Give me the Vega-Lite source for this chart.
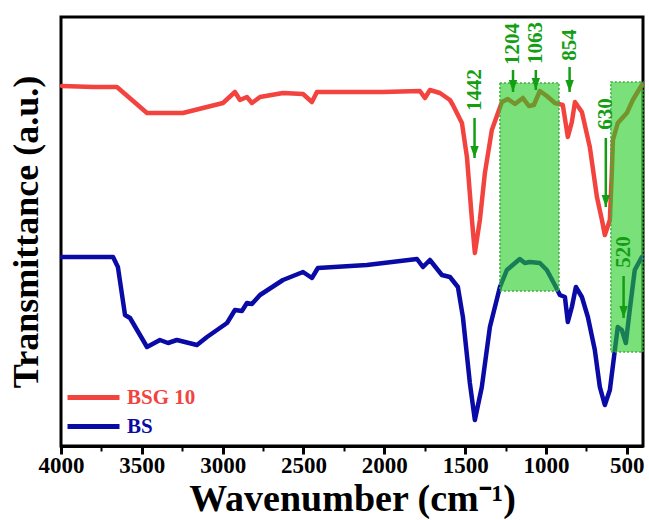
{
  "$schema": "https://vega.github.io/schema/vega-lite/v6.json",
  "width": 582,
  "height": 429,
  "autosize": {"type": "none"},
  "padding": {"left": 61, "top": 17, "right": 6, "bottom": 74},
  "background": "white",
  "config": {
    "view": {"stroke": "black", "strokeWidth": 3},
    "font": "Liberation Serif"
  },
  "datasets": {
    "spectra": [
      {"series": "BSG 10", "wn": 3994, "t": 360},
      {"series": "BSG 10", "wn": 3800, "t": 359},
      {"series": "BSG 10", "wn": 3654, "t": 359},
      {"series": "BSG 10", "wn": 3468, "t": 333},
      {"series": "BSG 10", "wn": 3246, "t": 333},
      {"series": "BSG 10", "wn": 2998, "t": 343},
      {"series": "BSG 10", "wn": 2924, "t": 354},
      {"series": "BSG 10", "wn": 2893, "t": 346},
      {"series": "BSG 10", "wn": 2850, "t": 349},
      {"series": "BSG 10", "wn": 2819, "t": 343},
      {"series": "BSG 10", "wn": 2769, "t": 349},
      {"series": "BSG 10", "wn": 2627, "t": 353},
      {"series": "BSG 10", "wn": 2503, "t": 352},
      {"series": "BSG 10", "wn": 2448, "t": 344},
      {"series": "BSG 10", "wn": 2417, "t": 354},
      {"series": "BSG 10", "wn": 2009, "t": 354},
      {"series": "BSG 10", "wn": 1780, "t": 355},
      {"series": "BSG 10", "wn": 1749, "t": 348},
      {"series": "BSG 10", "wn": 1718, "t": 356},
      {"series": "BSG 10", "wn": 1656, "t": 353},
      {"series": "BSG 10", "wn": 1594, "t": 346},
      {"series": "BSG 10", "wn": 1576, "t": 341},
      {"series": "BSG 10", "wn": 1520, "t": 323},
      {"series": "BSG 10", "wn": 1489, "t": 289},
      {"series": "BSG 10", "wn": 1458, "t": 226},
      {"series": "BSG 10", "wn": 1440, "t": 193},
      {"series": "BSG 10", "wn": 1409, "t": 226},
      {"series": "BSG 10", "wn": 1378, "t": 273},
      {"series": "BSG 10", "wn": 1335, "t": 316},
      {"series": "BSG 10", "wn": 1273, "t": 344},
      {"series": "BSG 10", "wn": 1236, "t": 347},
      {"series": "BSG 10", "wn": 1192, "t": 342},
      {"series": "BSG 10", "wn": 1143, "t": 348},
      {"series": "BSG 10", "wn": 1106, "t": 340},
      {"series": "BSG 10", "wn": 1075, "t": 341},
      {"series": "BSG 10", "wn": 1038, "t": 355},
      {"series": "BSG 10", "wn": 995, "t": 350},
      {"series": "BSG 10", "wn": 945, "t": 343},
      {"series": "BSG 10", "wn": 896, "t": 341},
      {"series": "BSG 10", "wn": 865, "t": 309},
      {"series": "BSG 10", "wn": 840, "t": 324},
      {"series": "BSG 10", "wn": 821, "t": 344},
      {"series": "BSG 10", "wn": 778, "t": 334},
      {"series": "BSG 10", "wn": 729, "t": 299},
      {"series": "BSG 10", "wn": 685, "t": 249},
      {"series": "BSG 10", "wn": 654, "t": 226},
      {"series": "BSG 10", "wn": 636, "t": 211},
      {"series": "BSG 10", "wn": 605, "t": 226},
      {"series": "BSG 10", "wn": 593, "t": 273},
      {"series": "BSG 10", "wn": 586, "t": 306},
      {"series": "BSG 10", "wn": 556, "t": 323},
      {"series": "BSG 10", "wn": 500, "t": 333},
      {"series": "BSG 10", "wn": 463, "t": 346},
      {"series": "BSG 10", "wn": 407, "t": 361},
      {"series": "BS", "wn": 3994, "t": 189},
      {"series": "BS", "wn": 3678, "t": 189},
      {"series": "BS", "wn": 3648, "t": 179},
      {"series": "BS", "wn": 3604, "t": 131},
      {"series": "BS", "wn": 3573, "t": 128},
      {"series": "BS", "wn": 3468, "t": 99},
      {"series": "BS", "wn": 3388, "t": 106},
      {"series": "BS", "wn": 3338, "t": 103},
      {"series": "BS", "wn": 3283, "t": 106},
      {"series": "BS", "wn": 3159, "t": 101},
      {"series": "BS", "wn": 3097, "t": 109},
      {"series": "BS", "wn": 2973, "t": 123},
      {"series": "BS", "wn": 2924, "t": 136},
      {"series": "BS", "wn": 2881, "t": 135},
      {"series": "BS", "wn": 2850, "t": 143},
      {"series": "BS", "wn": 2819, "t": 142},
      {"series": "BS", "wn": 2769, "t": 151},
      {"series": "BS", "wn": 2627, "t": 166},
      {"series": "BS", "wn": 2503, "t": 174},
      {"series": "BS", "wn": 2448, "t": 168},
      {"series": "BS", "wn": 2411, "t": 178},
      {"series": "BS", "wn": 2108, "t": 181},
      {"series": "BS", "wn": 1798, "t": 187},
      {"series": "BS", "wn": 1761, "t": 179},
      {"series": "BS", "wn": 1718, "t": 186},
      {"series": "BS", "wn": 1644, "t": 171},
      {"series": "BS", "wn": 1594, "t": 169},
      {"series": "BS", "wn": 1545, "t": 159},
      {"series": "BS", "wn": 1514, "t": 129},
      {"series": "BS", "wn": 1471, "t": 63},
      {"series": "BS", "wn": 1440, "t": 26},
      {"series": "BS", "wn": 1397, "t": 59},
      {"series": "BS", "wn": 1347, "t": 119},
      {"series": "BS", "wn": 1285, "t": 159},
      {"series": "BS", "wn": 1242, "t": 176},
      {"series": "BS", "wn": 1162, "t": 187},
      {"series": "BS", "wn": 1131, "t": 183},
      {"series": "BS", "wn": 1100, "t": 184},
      {"series": "BS", "wn": 1038, "t": 183},
      {"series": "BS", "wn": 995, "t": 176},
      {"series": "BS", "wn": 945, "t": 161},
      {"series": "BS", "wn": 914, "t": 151},
      {"series": "BS", "wn": 883, "t": 149},
      {"series": "BS", "wn": 865, "t": 124},
      {"series": "BS", "wn": 840, "t": 139},
      {"series": "BS", "wn": 815, "t": 159},
      {"series": "BS", "wn": 778, "t": 149},
      {"series": "BS", "wn": 741, "t": 129},
      {"series": "BS", "wn": 698, "t": 96},
      {"series": "BS", "wn": 667, "t": 59},
      {"series": "BS", "wn": 636, "t": 41},
      {"series": "BS", "wn": 605, "t": 56},
      {"series": "BS", "wn": 574, "t": 96},
      {"series": "BS", "wn": 556, "t": 119},
      {"series": "BS", "wn": 531, "t": 116},
      {"series": "BS", "wn": 506, "t": 103},
      {"series": "BS", "wn": 482, "t": 136},
      {"series": "BS", "wn": 451, "t": 176},
      {"series": "BS", "wn": 407, "t": 189}
    ],
    "regions": [
      {"from": 1285, "to": 920, "top": 363, "bottom": 155},
      {"from": 599, "to": 400, "top": 364, "bottom": 94}
    ],
    "peaks": [
      {"label": "1442", "wn": 1442, "start": 328, "tip": 288, "text": 356},
      {"label": "1204", "wn": 1204, "start": 376, "tip": 354, "text": 402},
      {"label": "1063", "wn": 1063, "start": 376, "tip": 356, "text": 403},
      {"label": "854", "wn": 854, "start": 379, "tip": 354, "text": 401},
      {"label": "630", "wn": 630, "start": 308, "tip": 239, "text": 332},
      {"label": "520", "wn": 520, "start": 170, "tip": 128, "text": 194}
    ]
  },
  "layer": [
    {
      "data": {"name": "spectra"},
      "mark": {"type": "line", "strokeWidth": 4.5, "strokeJoin": "round", "strokeCap": "round"},
      "encoding": {
        "x": {
          "field": "wn", "type": "quantitative",
          "scale": {"domain": [4000, 400], "nice": false, "zero": false},
          "axis": {
            "title": "Wavenumber (cm⁻¹)",
            "values": [4000, 3750, 3500, 3250, 3000, 2750, 2500, 2250, 2000, 1750, 1500, 1250, 1000, 750, 500],
            "labelExpr": "datum.value % 500 === 0 ? datum.label : ''",
            "format": "d",
            "grid": false,
            "domainColor": "black", "domainWidth": 3,
            "tickColor": "black",
            "tickSize": {"condition": {"test": "datum.value % 500 === 0", "value": 8}, "value": 5},
            "tickWidth": {"condition": {"test": "datum.value % 500 === 0", "value": 3}, "value": 2},
            "labelFont": "Liberation Serif", "labelFontSize": 23, "labelFontWeight": "bold", "labelColor": "black",
            "labelPadding": 0, "labelFlush": false, "labelOverlap": false,
            "titleFont": "Liberation Serif", "titleFontSize": 38, "titleFontWeight": "bold", "titleColor": "black",
            "titlePadding": 3
          }
        },
        "y": {
          "field": "t", "type": "quantitative",
          "scale": {"domain": [0, 429], "nice": false, "zero": false},
          "axis": {
            "title": "Transmittance (a.u.)",
            "labels": false, "ticks": false, "grid": false, "domain": false,
            "titleFont": "Liberation Serif", "titleFontSize": 36, "titleFontWeight": "bold", "titleColor": "black",
            "titlePadding": 16
          }
        },
        "color": {
          "field": "series", "type": "nominal",
          "scale": {"domain": ["BSG 10", "BS"], "range": ["#f2433f", "#0a0aa6"]},
          "legend": {
            "title": null,
            "orient": "bottom-left",
            "offset": 9,
            "symbolType": "M -4 0 L 4 0",
            "symbolSize": 169,
            "symbolStrokeWidth": 5,
            "symbolOffset": 13,
            "labelFont": "Liberation Serif", "labelFontSize": 21, "labelFontWeight": "bold",
            "labelOffset": 23,
            "rowPadding": 7,
            "encode": {"labels": {"update": {"fill": {"scale": "color", "field": "value"}}}}
          }
        },
        "order": {"field": "wn", "type": "quantitative", "sort": "descending"}
      }
    },
    {
      "data": {"name": "regions"},
      "mark": {"type": "rect", "fill": "#22cc22", "fillOpacity": 0.6, "stroke": "#3fae3f", "strokeWidth": 1.5, "strokeDash": [2, 2]},
      "encoding": {
        "x": {"field": "from", "type": "quantitative"},
        "x2": {"field": "to"},
        "y": {"field": "top", "type": "quantitative"},
        "y2": {"field": "bottom"}
      }
    },
    {
      "data": {"name": "peaks"},
      "mark": {"type": "rule", "color": "#149e14", "strokeWidth": 2.5},
      "encoding": {
        "x": {"field": "wn", "type": "quantitative"},
        "y": {"field": "start", "type": "quantitative"},
        "y2": {"field": "tip"}
      }
    },
    {
      "data": {"name": "peaks"},
      "mark": {"type": "point", "shape": "M -0.7 -2 L 0.7 -2 L 0 0 Z", "size": 144, "filled": true, "color": "#149e14", "opacity": 1},
      "encoding": {
        "x": {"field": "wn", "type": "quantitative"},
        "y": {"field": "tip", "type": "quantitative"}
      }
    },
    {
      "data": {"name": "peaks"},
      "mark": {"type": "text", "angle": 270, "align": "center", "baseline": "middle", "font": "Liberation Serif", "fontSize": 21, "fontWeight": "bold", "color": "#149e14"},
      "encoding": {
        "x": {"field": "wn", "type": "quantitative"},
        "y": {"field": "text", "type": "quantitative"},
        "text": {"field": "label"}
      }
    }
  ]
}
